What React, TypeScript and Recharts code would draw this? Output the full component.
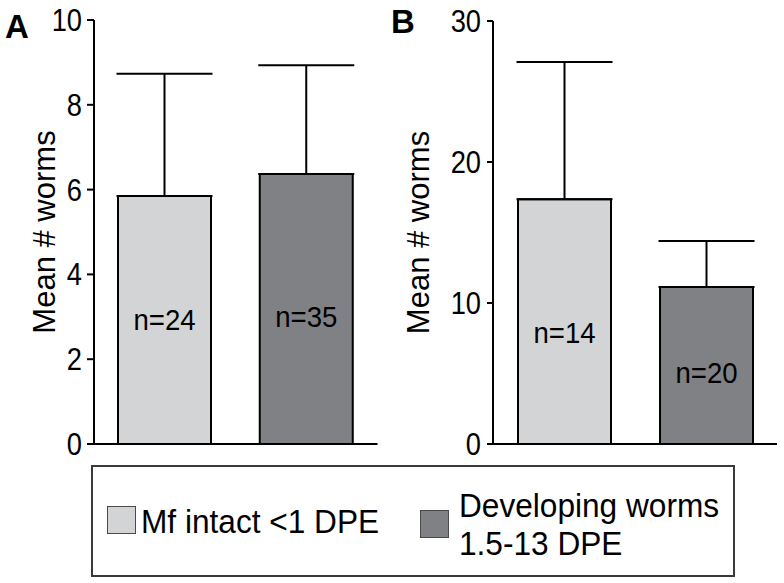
import React from 'react';
import { BarChart, Bar, XAxis, YAxis, ErrorBar, Cell, LabelList } from 'recharts';

const categories = ['Mf intact <1 DPE', 'Developing worms 1.5-13 DPE'];
const colors = ['#d3d4d6', '#808184'];

const meansA = [5.85, 6.37];
const sdA = [2.88, 2.56];
const nA = ['n=24', 'n=35'];
const labelAtA = [2.95, 3.0];
const ticksA = [0, 2, 4, 6, 8, 10];

const meansB = [17.36, 11.13];
const sdB = [9.74, 3.27];
const nB = ['n=14', 'n=20'];
const labelAtB = [7.94, 5.1];
const ticksB = [0, 10, 20, 30];

const FONT = '"Liberation Sans", Arial, Helvetica, sans-serif';

const build = (means: number[], sds: number[], ns: string[]) =>
  categories.map((c, i) => ({ cat: c, mean: means[i], err: [0, sds[i]], n: ns[i] }));

const dataA = build(meansA, sdA, nA);
const dataB = build(meansB, sdB, nB);

function makeNLabel(labelAt: number[], means: number[]) {
  return (props: any) => {
    const vb = props.viewBox || {};
    const x = Number(props.x ?? vb.x);
    const y = Number(props.y ?? vb.y);
    const width = Number(props.width ?? vb.width);
    const height = Number(props.height ?? vb.height);
    const index = props.index;
    const cy = y + height - (labelAt[index] / means[index]) * height;
    return (
      <g transform={`translate(${x + width / 2},${cy}) scale(0.92,1)`}>
        <text x={0} y={0} dy="0.355em" textAnchor="middle" fontSize={30} fill="#000" fontFamily={FONT}>
          {props.value}
        </text>
      </g>
    );
  };
}

const YTick = (props: any) => {
  const { x, y, payload } = props;
  return (
    <g transform={`translate(${x},${y}) scale(0.88,1)`}>
      <text x={0} y={0} dy="0.355em" textAnchor="end" fontSize={31} fill="#000" fontFamily={FONT}>
        {payload.value}
      </text>
    </g>
  );
};

type PanelProps = {
  data: any[];
  ticks: number[];
  max: number;
  yWidth: number;
  marginTop: number;
  marginRight: number;
  labelOffset: number;
  tickSize: number;
  tickMargin: number;
  labelAt: number[];
  means: number[];
};

function Panel(p: PanelProps) {
  return (
    <BarChart
      width={392}
      height={470}
      data={p.data}
      margin={{ top: p.marginTop, right: p.marginRight, left: 0, bottom: 25 }}
    >
      <XAxis
        dataKey="cat"
        type="category"
        height={1}
        tick={false}
        tickLine={false}
        axisLine={{ stroke: '#000', strokeWidth: 2 }}
      />
      <YAxis
        type="number"
        domain={[0, p.max]}
        ticks={p.ticks}
        width={p.yWidth}
        tickSize={p.tickSize}
        tickMargin={p.tickMargin}
        axisLine={{ stroke: '#000', strokeWidth: 2 }}
        tickLine={{ stroke: '#000', strokeWidth: 2 }}
        tick={<YTick />}
        interval={0}
        label={{
          value: 'Mean # worms',
          angle: -90,
          position: 'insideLeft',
          offset: p.labelOffset,
          style: { textAnchor: 'middle', fontSize: 31, fontFamily: FONT, fill: '#000' },
        }}
      />
      <Bar dataKey="mean" barSize={93} stroke="#000" strokeWidth={2} isAnimationActive={false}>
        {p.data.map((d, i) => (
          <Cell key={d.cat} fill={colors[i]} />
        ))}
        <ErrorBar dataKey="err" width={48} stroke="#000" strokeWidth={2} direction="y" />
        <LabelList dataKey="n" content={makeNLabel(p.labelAt, p.means)} />
      </Bar>
    </BarChart>
  );
}

const legendText: React.CSSProperties = {
  position: 'absolute',
  fontSize: 34,
  lineHeight: '38px',
  whiteSpace: 'nowrap',
  color: '#000',
  transform: 'scaleX(0.93)',
  transformOrigin: 'left top',
};

export default function App() {
  return (
    <div
      style={{
        position: 'absolute',
        left: 0,
        top: 0,
        width: 784,
        height: 583,
        background: '#fff',
        fontFamily: FONT,
        overflow: 'hidden',
      }}
    >
      <div style={{ position: 'absolute', left: 0, top: 0 }}>
        <Panel
          data={dataA}
          ticks={ticksA}
          max={10}
          yWidth={94}
          marginTop={20}
          marginRight={14.5}
          labelOffset={43.5}
          tickSize={7}
          tickMargin={5}
          labelAt={labelAtA}
          means={meansA}
        />
      </div>
      <div style={{ position: 'absolute', left: 392, top: 0 }}>
        <Panel
          data={dataB}
          ticks={ticksB}
          max={30}
          yWidth={101}
          marginTop={21}
          marginRight={7}
          labelOffset={26}
          tickSize={6}
          tickMargin={6}
          labelAt={labelAtB}
          means={meansB}
        />
      </div>
      <div
        style={{
          position: 'absolute',
          left: 5,
          top: 10,
          fontSize: 33,
          fontWeight: 'bold',
          lineHeight: '33px',
        }}
      >
        A
      </div>
      <div
        style={{
          position: 'absolute',
          left: 391,
          top: 5,
          fontSize: 33,
          fontWeight: 'bold',
          lineHeight: '33px',
        }}
      >
        B
      </div>
      <div
        style={{
          position: 'absolute',
          left: 91,
          top: 465,
          width: 640,
          height: 108,
          border: '2px solid #3a3a3a',
          boxSizing: 'content-box',
        }}
      />
      <div
        style={{
          position: 'absolute',
          left: 107,
          top: 506,
          width: 27,
          height: 26,
          background: colors[0],
          border: '1.5px solid #4a4a4a',
        }}
      />
      <div style={{ ...legendText, left: 141, top: 502 }}>{categories[0]}</div>
      <div
        style={{
          position: 'absolute',
          left: 420,
          top: 510,
          width: 27,
          height: 26,
          background: colors[1],
          border: '1.5px solid #4a4a4a',
        }}
      />
      <div style={{ ...legendText, left: 459, top: 486 }}>
        Developing worms
        <br />
        1.5-13 DPE
      </div>
    </div>
  );
}
